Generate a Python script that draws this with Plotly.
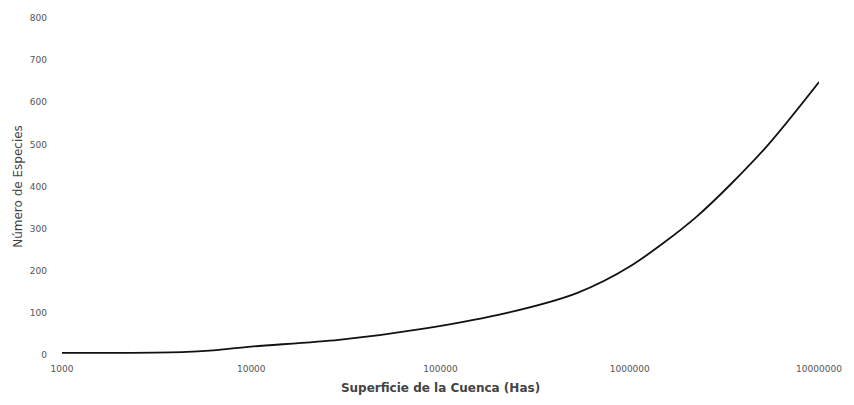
import plotly.graph_objects as go

# Species-area relationship for river basins
area_has = [1000, 1600, 4300, 6300, 10000, 29000, 85000, 225000, 525000,
            1000000, 2250000, 5100000, 10000000]
species = [5, 5, 7, 11, 20, 36, 64, 100, 147, 210, 328, 487, 648]

x_ticks = [1000, 10000, 100000, 1000000, 10000000]
x_tick_text = ["1000", "10000", "100000", "1000000", "10000000"]
y_ticks = [0, 100, 200, 300, 400, 500, 600, 700, 800]

fig = go.Figure()
fig.add_trace(go.Scatter(
    x=area_has, y=species, mode="lines",
    line=dict(color="#111111", width=1.8, shape="spline", smoothing=0.8),
    showlegend=False, hoverinfo="skip",
))

tick_font = dict(family="DejaVu Sans", size=9, color="#555555")

fig.update_layout(
    width=854, height=405,
    margin=dict(l=62, r=27, t=18, b=50),
    paper_bgcolor="white", plot_bgcolor="white",
    font=tick_font,
    xaxis=dict(
        type="log", range=[3, 7],
        tickvals=x_ticks, ticktext=x_tick_text, tickfont=tick_font,
        showgrid=False, zeroline=False, showline=False,
        ticks="", ticklabelstandoff=7,
        title=dict(text="Superficie de la Cuenca (Has)", standoff=10,
                   font=dict(family="DejaVu Sans", size=12, color="#444444",
                             weight="bold")),
    ),
    yaxis=dict(
        range=[0, 800], tickvals=y_ticks, tickfont=tick_font,
        showgrid=False, zeroline=False, showline=False,
        ticks="", ticklabelstandoff=14,
        title=dict(text="Número de Especies", standoff=4,
                   font=dict(family="DejaVu Sans", size=12, color="#444444")),
    ),
)

fig.write_html("out.html")
